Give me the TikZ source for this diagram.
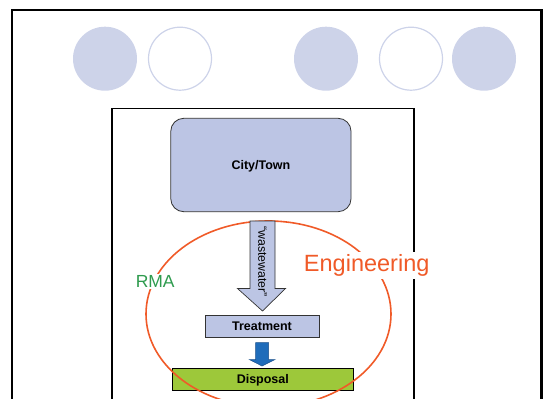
\documentclass[tikz,border=0pt]{standalone}
\usepackage{fontspec}
\setmainfont{Liberation Sans}
\definecolor{circfill}{HTML}{CDD3E9}
\definecolor{boxfill}{HTML}{BCC5E4}
\definecolor{dispfill}{HTML}{9DC83A}
\definecolor{ellred}{HTML}{F05A28}
\definecolor{rmagreen}{HTML}{2E9B4E}
\definecolor{arrblue}{HTML}{1F6CBA}
\definecolor{arrblueedge}{HTML}{1A4F8A}
\definecolor{edgegray}{HTML}{333333}
\begin{document}
\begin{tikzpicture}[x=1pt,y=-1pt,
  dot/.style={circle,fill=circfill,minimum size=64pt,inner sep=0pt},
  ring/.style={circle,draw=circfill,line width=1.2pt,minimum size=63pt,inner sep=0pt},
  procbox/.style={draw=edgegray,line width=0.8pt,fill=boxfill,inner sep=0pt,outer sep=0pt,text height=9pt,text depth=0pt,font=\fontsize{12.5}{14}\selectfont\bfseries},
  label/.style={fill=white,inner sep=1pt}
]
\useasboundingbox (0,0) rectangle (544,399);
% frames
\draw[line width=2.4pt] (12,10) rectangle (541.5,420);
\draw[line width=1.1pt] (112,108.7) rectangle (414,420);
% decorative circles
\node[dot]  (c1) at (105,58.7) {};
\node[ring] (c2) at (180,58.7) {};
\node[dot]  (c3) at (326,58.7) {};
\node[ring] (c4) at (411,58.7) {};
\node[dot]  (c5) at (484,58.7) {};
% boxes
\node[procbox,rounded corners=13pt,minimum width=180.3pt,minimum height=93.4pt] (city) at (260.9,165) {City/Town};
\node[procbox,minimum width=114pt,minimum height=22.7pt] (treat) at (262,326.3) {Treatment};
\node[procbox,fill=dispfill,draw=black,minimum width=181pt,minimum height=22.2pt] (disp) at (262.8,379.4) {Disposal};
% blue arrow treatment -> disposal
\filldraw[fill=arrblue,draw=arrblueedge,line width=0.5pt]
  (255.5,342.5) -- (268.5,342.5) -- (268.5,359.5) -- (275,359.5) -- (262,366) -- (249.3,359.5) -- (255.5,359.5) -- cycle;
% ellipse
\draw[ellred,line width=1.6pt] (268.5,314) ellipse [x radius=122.5pt, y radius=93pt];
% wastewater arrow city -> treatment
\filldraw[fill=boxfill,draw=edgegray,line width=0.7pt]
  (250,221) -- (275,221) -- (275,288.5) -- (285.5,288.5) -- (262.5,311) -- (237.5,288.5) -- (250,288.5) -- cycle;
\node[rotate=-90,font=\fontsize{12.3}{14}\selectfont,inner sep=0pt] (ww) at (262.5,261.5) {“wastewater”};
% labels
\node[label,text=rmagreen,font=\fontsize{17.5}{20}\selectfont] (rma) at (155.2,281.5) {RMA};
\node[label,text=ellred,font=\fontsize{23.5}{26}\selectfont,inner ysep=3pt] (eng) at (366.7,265.5) {Engineering};
\end{tikzpicture}
\end{document}
